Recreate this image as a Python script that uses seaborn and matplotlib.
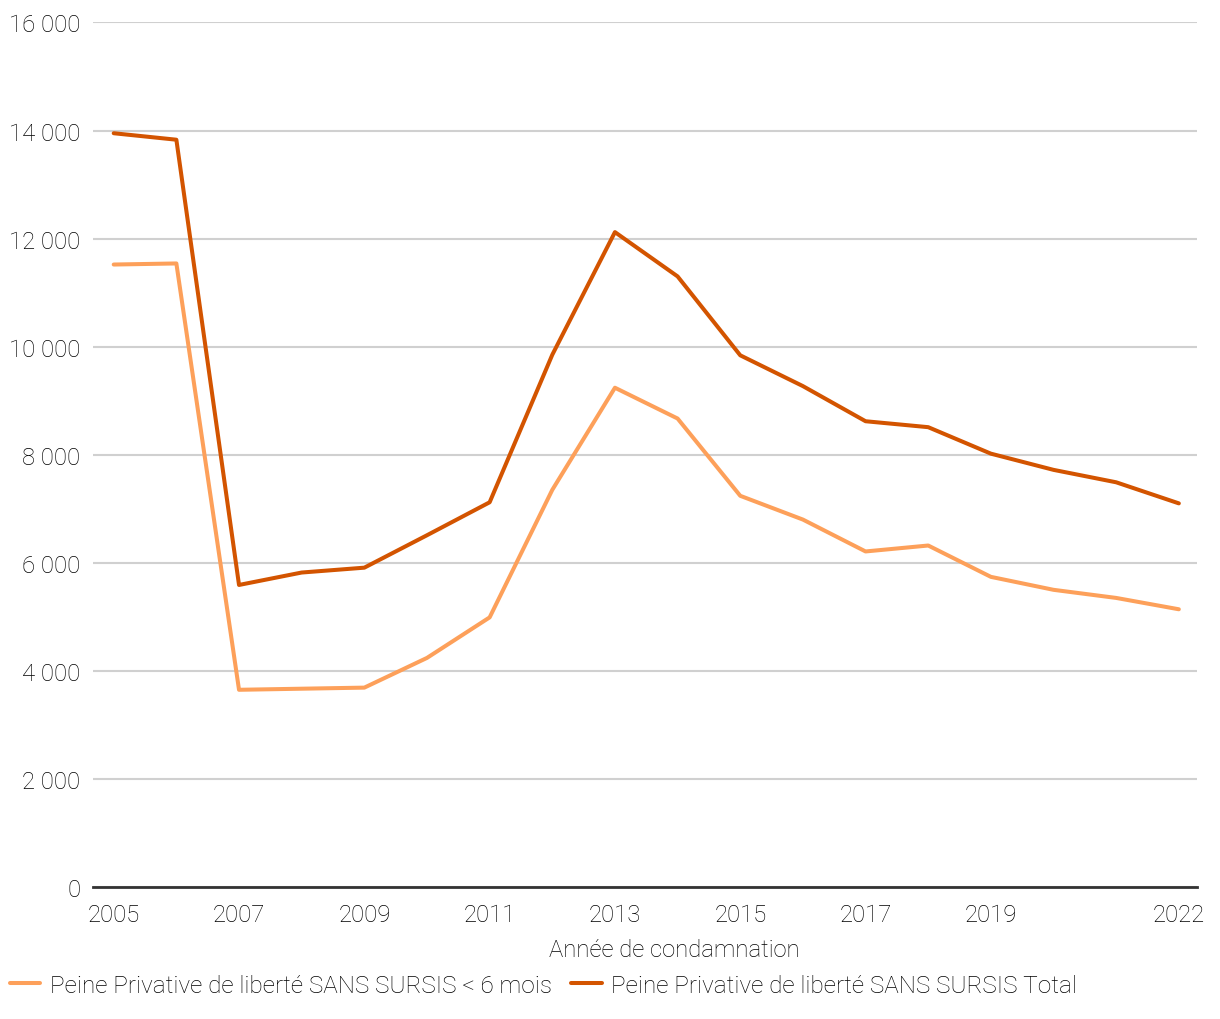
import pandas as pd
import numpy as np
import matplotlib
matplotlib.use("Agg")
import matplotlib.pyplot as plt
from matplotlib.ticker import FuncFormatter
import seaborn as sns

# ---------------------------------------------------------------------------
# DATA
# ---------------------------------------------------------------------------
years = list(range(2005, 2023))
short_sentences = [11520, 11540, 3650, 3670, 3690, 4240, 4990, 7350, 9240,
                   8670, 7240, 6800, 6210, 6320, 5740, 5500, 5350, 5140]
total_sentences = [13950, 13830, 5590, 5820, 5910, 6510, 7120, 9850, 12120,
                   11300, 9840, 9270, 8620, 8510, 8020, 7720, 7490, 7100]
series_names = ["Peine Privative de liberté SANS SURSIS < 6 mois",
                "Peine Privative de liberté SANS SURSIS Total"]
series_colors = ["#FDA05A", "#D35400"]
x_ticks = [2005, 2007, 2009, 2011, 2013, 2015, 2017, 2019, 2022]
y_ticks = [0, 2000, 4000, 6000, 8000, 10000, 12000, 14000, 16000]

df = pd.DataFrame({
    "Année": years * 2,
    "Valeur": short_sentences + total_sentences,
    "Série": [series_names[0]] * len(years) + [series_names[1]] * len(years),
})

# ---------------------------------------------------------------------------
# PLOT
# ---------------------------------------------------------------------------
sns.set_theme(style="white")
plt.rcParams["font.family"] = ["Roboto", "DejaVu Sans"]
plt.rcParams["font.weight"] = "light"
TXT = "#000000"

fig = plt.figure(figsize=(12.2, 10.2), dpi=100)
ax = fig.add_axes([0.076, 0.1294, 0.905, 0.8476])

sns.lineplot(data=df, x="Année", y="Valeur", hue="Série", hue_order=series_names,
             palette=dict(zip(series_names, series_colors)), linewidth=2.9, ax=ax)

ax.set_xlim(2004.665, 2022.287)
ax.set_ylim(0, 16000)
ax.set_xticks(x_ticks)
ax.set_yticks(y_ticks)
ax.yaxis.set_major_formatter(FuncFormatter(lambda v, _: f"{int(v):,}".replace(",", " ")))
ax.tick_params(axis="both", length=0, labelsize=17.2, colors=TXT)
ax.tick_params(axis="x", pad=11.5)
ax.tick_params(axis="y", pad=9)

ax.grid(axis="y", color="#d0d0d0", linewidth=1.5)
ax.set_axisbelow(True)
for side in ["top", "right", "left"]:
    ax.spines[side].set_visible(False)
ax.spines["bottom"].set_color("#333333")
ax.spines["bottom"].set_linewidth(2)
ax.spines["bottom"].set_zorder(3)

ax.set_ylabel("")
ax.set_xlabel("")
fig.text(674 / 1220, 1 - 951 / 1020, "Année de condamnation", ha="center", va="center",
         fontsize=17.2, color=TXT)

handles, labels = ax.get_legend_handles_labels()
ax.legend_.remove()
fig.legend(handles, labels, loc="center left", bbox_to_anchor=(0.0, 1 - 986 / 1020),
           ncol=2, frameon=False, fontsize=17.5, handlelength=1.25, handletextpad=0.4,
           columnspacing=0.8, borderaxespad=0, labelcolor=TXT)

fig.savefig("out.png", dpi=100)
